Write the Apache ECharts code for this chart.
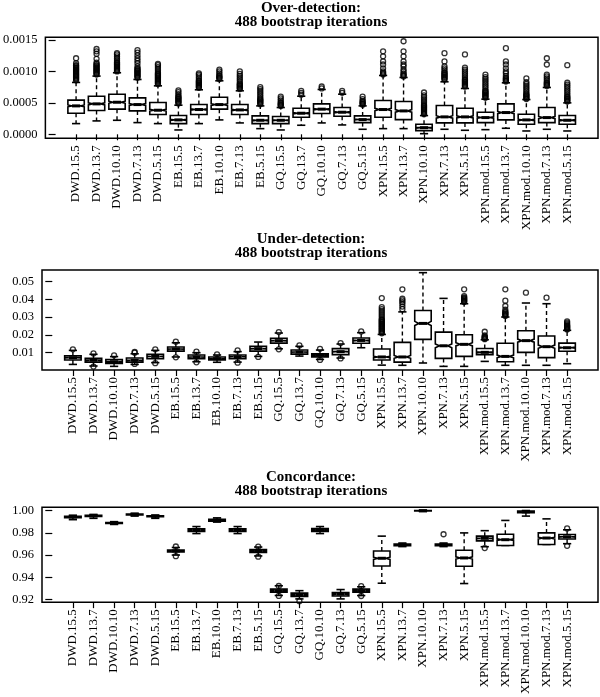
<!DOCTYPE html>
<html><head><meta charset="utf-8">
<script src="https://cdn.jsdelivr.net/npm/echarts@6/dist/echarts.min.js"></script>
<style>html,body{margin:0;padding:0;background:#fff}#c{width:600px;height:697px}</style>
</head><body><div id="c"></div><script>
const categories = ['DWD.15.5','DWD.13.7','DWD.10.10','DWD.7.13','DWD.5.15','EB.15.5','EB.13.7','EB.10.10','EB.7.13','EB.5.15','GQ.15.5','GQ.13.7','GQ.10.10','GQ.7.13','GQ.5.15','XPN.15.5','XPN.13.7','XPN.10.10','XPN.7.13','XPN.5.15','XPN.mod.15.5','XPN.mod.13.7','XPN.mod.10.10','XPN.mod.7.13','XPN.mod.5.15'];
const nIter = 488;

// Panel 1: Over-detection
const overLow  = [0.00017,0.000213,0.000223,0.000186,0.00017,0.000069,0.00017,0.000229,0.000181,0.00009,0.000069,0.000144,0.000181,0.000149,0.00008,0.00009,0.00009,0.00001,0.00008,0.000064,0.000074,0.000096,0.000053,0.00008,0.000053];
const overQ1   = [0.000335,0.000378,0.0004,0.000372,0.000314,0.00017,0.000314,0.0004,0.000314,0.00017,0.00017,0.000271,0.00033,0.000287,0.000186,0.000271,0.000234,0.000059,0.000181,0.000181,0.000186,0.000229,0.00016,0.000186,0.00016];
const overMed  = [0.000452,0.000484,0.00051,0.000473,0.000383,0.000229,0.000394,0.000473,0.000388,0.000223,0.000223,0.000335,0.0004,0.000351,0.000234,0.000394,0.000372,0.000106,0.000277,0.000277,0.000266,0.000346,0.000229,0.000266,0.000223];
const overQ3   = [0.000543,0.000606,0.000638,0.00058,0.000505,0.000298,0.000473,0.00059,0.000473,0.000293,0.000282,0.000415,0.000484,0.000426,0.000293,0.000537,0.000521,0.00016,0.000458,0.000415,0.000351,0.000484,0.000319,0.000426,0.000298];
const overHigh = [0.000825,0.000926,0.000979,0.000872,0.000771,0.000463,0.000708,0.000851,0.000692,0.000452,0.000426,0.000606,0.000713,0.000638,0.000452,0.000936,0.000904,0.000298,0.000835,0.000729,0.000559,0.000819,0.000553,0.000745,0.0005];
const overOutliers = [
  [0.00086,0.000875,0.00089,0.000905,0.00092,0.000935,0.00095,0.000965,0.00098,0.000995,0.00101,0.001025,0.00104,0.001055,0.00107,0.00109,0.0011,0.00113,0.00121],
  [0.00095,0.000965,0.00098,0.000995,0.00101,0.001025,0.00104,0.001055,0.00107,0.00109,0.0011,0.00112,0.00114,0.0012,0.00128,0.00132,0.001357],
  [0.001,0.001015,0.00103,0.001045,0.00106,0.001075,0.00109,0.001105,0.00112,0.001135,0.00115,0.00118,0.00121,0.00124,0.00127,0.00129],
  [0.0009,0.000915,0.00093,0.000945,0.00096,0.000975,0.00099,0.001005,0.00102,0.001035,0.00105,0.00108,0.00113,0.00117,0.00121,0.001255,0.0013,0.00134],
  [0.0008,0.000815,0.00083,0.000845,0.00086,0.000875,0.00089,0.000905,0.00092,0.000935,0.00095,0.000965,0.00098,0.00101,0.00104,0.00107,0.0011,0.00112],
  [0.00049,0.000505,0.00052,0.000535,0.00055,0.000565,0.00058,0.000595,0.00061,0.00064,0.00067,0.0007],
  [0.00074,0.000755,0.00077,0.000785,0.0008,0.000815,0.00083,0.000845,0.00086,0.00089,0.00092,0.00095,0.00097],
  [0.00088,0.000895,0.00091,0.000925,0.00094,0.00097,0.001,0.00103],
  [0.00072,0.000735,0.00075,0.000765,0.00078,0.000795,0.00081,0.00084,0.00087,0.0009,0.00093,0.00096,0.001],
  [0.00048,0.000495,0.00051,0.000525,0.00054,0.000555,0.00057,0.0006,0.00063,0.00066,0.00069,0.00072,0.00075],
  [0.00045,0.000465,0.00048,0.000495,0.00051,0.00054,0.00057,0.0006],
  [0.00063,0.00066,0.00069],
  [0.00073,0.00076],
  [0.00066,0.00069],
  [0.00047,0.000485,0.0005,0.000515,0.00053,0.00056,0.0006],
  [0.00095,0.000965,0.00098,0.001,0.00105,0.00111,0.00116,0.00124,0.00132],
  [0.00092,0.000935,0.00095,0.00097,0.001,0.00103,0.00108,0.00111,0.00116,0.00124,0.00132,0.00148],
  [0.00032,0.000335,0.00035,0.000365,0.00038,0.000395,0.00041,0.000425,0.00044,0.000455,0.00047,0.0005,0.00053,0.00056,0.00059,0.00062,0.000665],
  [0.00087,0.000885,0.0009,0.000915,0.00093,0.000945,0.00096,0.000975,0.00099,0.00102,0.00105,0.00108,0.00116,0.00129],
  [0.00076,0.000775,0.00079,0.000805,0.00082,0.000835,0.00085,0.000865,0.00088,0.00091,0.00094,0.00097,0.001,0.00103,0.00106,0.00127],
  [0.00058,0.000595,0.00061,0.000625,0.00064,0.000655,0.00067,0.000685,0.0007,0.00073,0.00076,0.00079,0.00082,0.00085,0.00088,0.00091,0.00095],
  [0.00084,0.000855,0.00087,0.000885,0.0009,0.00093,0.00097,0.001,0.00105,0.00111,0.00116,0.00137],
  [0.00056,0.000575,0.00059,0.000605,0.00062,0.000635,0.00065,0.00068,0.00071,0.00074,0.00077,0.0008,0.00083,0.00089],
  [0.00077,0.000785,0.0008,0.000815,0.00083,0.00086,0.00089,0.00092,0.00095,0.00111,0.00121],
  [0.00052,0.000535,0.00055,0.000565,0.00058,0.000595,0.00061,0.00064,0.00067,0.0007,0.00073,0.00076,0.00079,0.00082,0.0011]
];
const overTicks = [0, 0.0005, 0.001, 0.0015];

// Panel 2: Under-detection
const underLow  = [0.0034,0.0025,0.0023,0.0034,0.0044,0.0076,0.0049,0.0046,0.0047,0.0079,0.0122,0.0081,0.0062,0.007,0.0128,0.003,0.0029,0.0042,0.0023,0.0023,0.0051,0.0029,0.0029,0.0029,0.0038];
const underQ1   = [0.0059,0.0046,0.004,0.0046,0.0066,0.0109,0.0066,0.0059,0.0066,0.0109,0.0154,0.0092,0.0076,0.0089,0.0153,0.0059,0.0047,0.0175,0.0068,0.0079,0.0089,0.0049,0.0102,0.0072,0.0108];
const underMed  = [0.0072,0.0057,0.0049,0.0057,0.0079,0.0121,0.0076,0.0066,0.0077,0.0123,0.0168,0.0104,0.0085,0.0106,0.0169,0.0076,0.0076,0.0265,0.0139,0.0147,0.0102,0.0079,0.0168,0.0134,0.0128];
const underQ3   = [0.0083,0.0068,0.0061,0.007,0.0091,0.0132,0.0087,0.0076,0.0087,0.0136,0.0181,0.0115,0.0094,0.0123,0.0183,0.0121,0.0158,0.0338,0.0216,0.0201,0.0124,0.0153,0.0224,0.0194,0.0154];
const underHigh = [0.0113,0.0091,0.0078,0.0094,0.0113,0.0156,0.01,0.0087,0.0106,0.016,0.0211,0.0136,0.0115,0.0149,0.0213,0.0203,0.033,0.0551,0.0406,0.0376,0.0173,0.0301,0.038,0.0376,0.0226];
const underOutliers = [
  [0.0119],[0.0096,0.0022],[0.0085],[0.01,0.0104,0.0037],[0.0119,0.0041],
  [0.0162,0.0074],[0.0106,0.0046],[0.0091],[0.0113,0.0044],[0.0076],
  [0.0216,0.0119],[0.0141],[0.0122,0.0059],[0.0154,0.0068],[0.022],
  [0.0209,0.0214,0.022,0.0225,0.0231,0.0236,0.0242,0.0247,0.0253,0.0258,0.0264,0.0269,0.0275,0.028,0.0286,0.0291,0.0302,0.0313,0.0324,0.0335,0.0346,0.0357,0.0408],
  [0.0345,0.036,0.0375,0.0385,0.0395,0.0404,0.0457],
  [],[],
  [0.0385,0.039,0.0394,0.0399,0.0403,0.0408,0.0412,0.0419,0.0457],
  [0.0176,0.018,0.0183,0.0187,0.019,0.0197,0.0218],
  [0.0307,0.0312,0.0317,0.0322,0.0327,0.0332,0.0342,0.0363,0.0393,0.0457],
  [0.0438],[0.041],
  [0.0231,0.0234,0.0238,0.0241,0.0245,0.0248,0.0252,0.0255,0.0262,0.0269,0.0277]
];
const underTicks = [0.01, 0.02, 0.03, 0.04, 0.05];

// Panel 3: Concordance
const concLow  = [0.9918,0.993,0.9875,0.995,0.993,0.96,0.9793,0.9896,0.9793,0.9592,0.9237,0.9206,0.9793,0.9206,0.9236,0.9347,0.9676,0.9991,0.9676,0.9344,0.9675,0.9686,0.995,0.9695,0.9702];
const concQ1   = [0.9936,0.9946,0.9884,0.9961,0.9944,0.9628,0.9813,0.9905,0.9813,0.9624,0.9266,0.9229,0.9813,0.9232,0.9266,0.9502,0.9685,0.9997,0.9685,0.9499,0.9727,0.9686,0.998,0.9695,0.9744];
const concMed  = [0.9942,0.9952,0.9888,0.9965,0.9948,0.9637,0.9825,0.9914,0.9825,0.9635,0.928,0.9243,0.9826,0.9249,0.928,0.9571,0.9692,0.9999,0.9692,0.9574,0.975,0.9738,0.9988,0.9753,0.9764];
const concQ3   = [0.9948,0.9957,0.9892,0.9969,0.9952,0.9646,0.9836,0.9922,0.9836,0.9649,0.9295,0.9258,0.9838,0.9263,0.9295,0.9637,0.9699,1.0,0.9699,0.9643,0.977,0.9787,0.9996,0.9799,0.9784];
const concHigh = [0.9958,0.9965,0.99,0.9976,0.996,0.9668,0.9856,0.9934,0.9856,0.9672,0.9324,0.928,0.9856,0.929,0.9315,0.977,0.9708,1.0,0.9708,0.9799,0.9819,0.9911,1.0,0.9925,0.9827];
const concOutliers = [
  [],[],[],[],[],[0.959,0.9677],[],[],[],[0.9585,0.9676],
  [0.9322,0.9233],[0.9186],[],[],[0.932,0.9232],
  [],[],[],[0.9787],[],[0.9663],[],[],[],[0.9839,0.9683]
];
const concTicks = [0.92, 0.94, 0.96, 0.98, 1.00];

const xTicks = categories.map((c, i) => i + 1);
const FONT = 'Liberation Serif';

const panels = [
  {title: 'Over-detection:\n488 bootstrap iterations', titleTop: 1, top: 37.3, height: 101, min: -0.0000636, max: 0.001543, ticks: overTicks, digits: 4,
   low: overLow, q1: overQ1, med: overMed, q3: overQ3, high: overHigh, out: overOutliers},
  {title: 'Under-detection:\n488 bootstrap iterations', titleTop: 232, top: 270, height: 100, min: 0.00025, max: 0.0566, ticks: underTicks, digits: 2,
   low: underLow, q1: underQ1, med: underMed, q3: underQ3, high: underHigh, out: underOutliers},
  {title: 'Concordance:\n488 bootstrap iterations', titleTop: 470.5, top: 507.3, height: 98.7, min: 0.9177, max: 1.0029, ticks: concTicks, digits: 2,
   low: concLow, q1: concQ1, med: concMed, q3: concQ3, high: concHigh, out: concOutliers}
];

function renderBox(params, api) {
  const x = api.value(0);
  const lw = api.value(1), q1 = api.value(2), md = api.value(3), q3 = api.value(4), uw = api.value(5);
  const half = api.size([0.8, 0])[0] / 2;
  const cx = api.coord([x, md])[0];
  const y = v => api.coord([x, v])[1];
  const nh = 1.58 * (q3 - q1) / Math.sqrt(nIter);
  const inner = half * 0.5;
  const cap = half * 0.5;
  const pts = [
    [cx - half, y(q1)], [cx + half, y(q1)], [cx + half, y(md - nh)], [cx + inner, y(md)],
    [cx + half, y(md + nh)], [cx + half, y(q3)], [cx - half, y(q3)], [cx - half, y(md + nh)],
    [cx - inner, y(md)], [cx - half, y(md - nh)]
  ];
  const dash = {stroke: '#000', lineWidth: 1.4, lineDash: [4, 3]};
  const solid = {stroke: '#000', lineWidth: 1.6};
  return {type: 'group', children: [
    {type: 'line', shape: {x1: cx, y1: y(q3), x2: cx, y2: y(uw)}, style: dash},
    {type: 'line', shape: {x1: cx, y1: y(q1), x2: cx, y2: y(lw)}, style: dash},
    {type: 'line', shape: {x1: cx - cap, y1: y(uw), x2: cx + cap, y2: y(uw)}, style: solid},
    {type: 'line', shape: {x1: cx - cap, y1: y(lw), x2: cx + cap, y2: y(lw)}, style: solid},
    {type: 'polygon', shape: {points: pts}, style: {fill: '#fff', stroke: '#000', lineWidth: 1.6}},
    {type: 'line', shape: {x1: cx - inner, y1: y(md), x2: cx + inner, y2: y(md)}, style: {stroke: '#000', lineWidth: 3}}
  ]};
}

const option = {
  animation: false,
  backgroundColor: '#fff',
  title: panels.map(p => ({
    text: p.title, left: 311, top: p.titleTop, textAlign: 'center', padding: 0,
    textStyle: {fontFamily: FONT, fontSize: 15, fontWeight: 'bold', color: '#000', lineHeight: 14}
  })),
  grid: panels.map(p => ({
    left: 42, width: 556, top: p.top, height: p.height, show: true,
    borderColor: '#000', borderWidth: 1.5, backgroundColor: 'transparent'
  })),
  xAxis: panels.map((p, i) => ({
    type: 'value', gridIndex: i, min: -0.5, max: 26.5,
    axisLine: {show: false}, splitLine: {show: false},
    axisTick: {show: true, customValues: xTicks, length: 6, lineStyle: {color: '#000', width: 1.2}},
    axisLabel: {customValues: xTicks, rotate: 90, margin: 7, fontFamily: FONT, fontSize: 13, color: '#000',
      formatter: v => categories[Math.round(v) - 1] || ''}
  })),
  yAxis: panels.map((p, i) => ({
    type: 'value', gridIndex: i, min: p.min, max: p.max,
    axisLine: {show: false}, splitLine: {show: false},
    axisTick: {show: true, customValues: p.ticks, length: 7, lineStyle: {color: '#000', width: 1.2}},
    axisLabel: {customValues: p.ticks, margin: 8, fontFamily: FONT, fontSize: 12.5, color: '#000',
      formatter: v => Number(v).toFixed(p.digits)}
  })),
  series: []
};

panels.forEach((p, i) => {
  option.series.push({
    type: 'custom', xAxisIndex: i, yAxisIndex: i, renderItem: renderBox,
    encode: {x: 0, y: [1, 2, 3, 4, 5]},
    data: categories.map((c, k) => [k + 1, p.low[k], p.q1[k], p.med[k], p.q3[k], p.high[k]]),
    z: 2
  });
  const outData = [];
  p.out.forEach((arr, k) => arr.forEach(v => outData.push([k + 1, v])));
  option.series.push({
    type: 'scatter', xAxisIndex: i, yAxisIndex: i, data: outData,
    symbol: 'circle', symbolSize: 5,
    itemStyle: {color: 'rgba(0,0,0,0)', borderColor: '#000', borderWidth: 1.3},
    z: 3
  });
});

const chart = echarts.init(document.getElementById('c'), null, {renderer: 'canvas'});
chart.setOption(option);
</script></body></html>
